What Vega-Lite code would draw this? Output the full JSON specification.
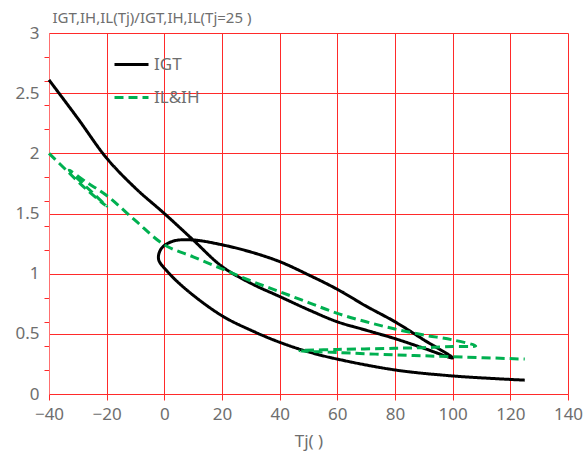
{
  "$schema": "https://vega.github.io/schema/vega-lite/v6.json",
  "width": 519,
  "height": 361,
  "autosize": "none",
  "padding": {"left": 49, "top": 33, "right": 20, "bottom": 66},
  "background": "white",
  "config": {"view": {"stroke": null}, "font": "Noto Sans"},
  "data": {"values": [
    {"s": "IGT", "o": 1, "t": -40, "r": 2.61},
    {"s": "IGT", "o": 2, "t": -30, "r": 2.29},
    {"s": "IGT", "o": 3, "t": -20, "r": 1.96},
    {"s": "IGT", "o": 4, "t": -10, "r": 1.71},
    {"s": "IGT", "o": 5, "t": 0, "r": 1.5},
    {"s": "IGT", "o": 6, "t": 10, "r": 1.28},
    {"s": "IGT", "o": 7, "t": 20, "r": 1.06},
    {"s": "IGT", "o": 8, "t": 30, "r": 0.92},
    {"s": "IGT", "o": 9, "t": 40, "r": 0.81},
    {"s": "IGT", "o": 10, "t": 50, "r": 0.7},
    {"s": "IGT", "o": 11, "t": 60, "r": 0.6},
    {"s": "IGT", "o": 12, "t": 70, "r": 0.53},
    {"s": "IGT", "o": 13, "t": 80, "r": 0.46},
    {"s": "IGT", "o": 14, "t": 90, "r": 0.38},
    {"s": "IGT", "o": 15, "t": 100, "r": 0.3},
    {"s": "IGT", "o": 16, "t": 90, "r": 0.45},
    {"s": "IGT", "o": 17, "t": 80, "r": 0.6},
    {"s": "IGT", "o": 18, "t": 70, "r": 0.73},
    {"s": "IGT", "o": 19, "t": 60, "r": 0.87},
    {"s": "IGT", "o": 20, "t": 50, "r": 0.99},
    {"s": "IGT", "o": 21, "t": 40, "r": 1.1},
    {"s": "IGT", "o": 22, "t": 30, "r": 1.18},
    {"s": "IGT", "o": 23, "t": 20, "r": 1.24},
    {"s": "IGT", "o": 24, "t": 10, "r": 1.28},
    {"s": "IGT", "o": 25, "t": 3, "r": 1.27},
    {"s": "IGT", "o": 26, "t": -1, "r": 1.21},
    {"s": "IGT", "o": 27, "t": -2, "r": 1.12},
    {"s": "IGT", "o": 28, "t": 1, "r": 1.02},
    {"s": "IGT", "o": 29, "t": 8, "r": 0.86},
    {"s": "IGT", "o": 30, "t": 20, "r": 0.65},
    {"s": "IGT", "o": 31, "t": 30, "r": 0.53},
    {"s": "IGT", "o": 32, "t": 40, "r": 0.43},
    {"s": "IGT", "o": 33, "t": 50, "r": 0.35},
    {"s": "IGT", "o": 34, "t": 60, "r": 0.29},
    {"s": "IGT", "o": 35, "t": 80, "r": 0.2},
    {"s": "IGT", "o": 36, "t": 100, "r": 0.15},
    {"s": "IGT", "o": 37, "t": 125, "r": 0.115},
    {"s": "IL&IH", "o": 1, "t": -40, "r": 2.0},
    {"s": "IL&IH", "o": 2, "t": -34, "r": 1.86},
    {"s": "IL&IH", "o": 3, "t": -27, "r": 1.7},
    {"s": "IL&IH", "o": 4, "t": -20, "r": 1.56},
    {"s": "IL&IH", "o": 5, "t": -27, "r": 1.72},
    {"s": "IL&IH", "o": 6, "t": -33, "r": 1.86},
    {"s": "IL&IH", "o": 7, "t": -27, "r": 1.76},
    {"s": "IL&IH", "o": 8, "t": -20, "r": 1.65},
    {"s": "IL&IH", "o": 9, "t": -10, "r": 1.44},
    {"s": "IL&IH", "o": 10, "t": 0, "r": 1.24},
    {"s": "IL&IH", "o": 11, "t": 10, "r": 1.14},
    {"s": "IL&IH", "o": 12, "t": 20, "r": 1.04},
    {"s": "IL&IH", "o": 13, "t": 30, "r": 0.94},
    {"s": "IL&IH", "o": 14, "t": 40, "r": 0.85},
    {"s": "IL&IH", "o": 15, "t": 50, "r": 0.76},
    {"s": "IL&IH", "o": 16, "t": 60, "r": 0.67},
    {"s": "IL&IH", "o": 17, "t": 70, "r": 0.6},
    {"s": "IL&IH", "o": 18, "t": 80, "r": 0.54},
    {"s": "IL&IH", "o": 19, "t": 90, "r": 0.49},
    {"s": "IL&IH", "o": 20, "t": 100, "r": 0.45},
    {"s": "IL&IH", "o": 21, "t": 108, "r": 0.4},
    {"s": "IL&IH", "o": 22, "t": 100, "r": 0.395},
    {"s": "IL&IH", "o": 23, "t": 90, "r": 0.385},
    {"s": "IL&IH", "o": 24, "t": 80, "r": 0.38},
    {"s": "IL&IH", "o": 25, "t": 60, "r": 0.37},
    {"s": "IL&IH", "o": 26, "t": 47, "r": 0.36},
    {"s": "IL&IH", "o": 27, "t": 60, "r": 0.345},
    {"s": "IL&IH", "o": 28, "t": 80, "r": 0.325},
    {"s": "IL&IH", "o": 29, "t": 100, "r": 0.31},
    {"s": "IL&IH", "o": 30, "t": 125, "r": 0.29}
  ]},
  "mark": {"type": "line", "interpolate": "catmull-rom", "strokeWidth": 3},
  "encoding": {
    "x": {"field": "t", "type": "quantitative",
      "scale": {"domain": [-40, 140], "nice": false, "zero": false},
      "axis": {"values": [-40, -20, 0, 20, 40, 60, 80, 100, 120, 140], "title": "Tj(  )", "format": "d",
        "labelOverlap": false, "labelBound": false, "labelFlush": false,
        "grid": true, "gridColor": "#ff2a2a", "gridWidth": 1, "domainColor": "#ff2a2a",
        "tickColor": "#ff2a2a", "tickSize": 6, "labelFontSize": 17, "labelColor": "#6e6e6e",
        "labelPadding": 6, "titleFontSize": 17, "titleColor": "#6e6e6e", "titleFontWeight": "normal",
        "titleY": 52, "titleBaseline": "alphabetic"}},
    "y": {"field": "r", "type": "quantitative",
      "scale": {"domain": [0, 3], "nice": false},
      "axis": {"values": [0, 0.2, 0.4, 0.5, 0.6, 0.8, 1, 1.2, 1.4, 1.5, 1.6, 1.8, 2, 2.2, 2.4, 2.5, 2.6, 2.8, 3],
        "labelExpr": "abs(datum.value * 2 - round(datum.value * 2)) < 0.001 ? format(datum.value, '~g') : ''",
        "labelOverlap": false, "labelFlush": false,
        "title": "IGT,IH,IL(Tj)/IGT,IH,IL(Tj=25 )",
        "titleAngle": 0, "titleAlign": "left", "titleBaseline": "middle", "titleX": 3, "titleY": -16,
        "titleFontSize": 15, "titleFontWeight": "normal", "titleColor": "#6e6e6e",
        "grid": true, "gridColor": "#ff2a2a",
        "gridOpacity": {"condition": {"test": "abs(datum.value * 2 - round(datum.value * 2)) < 0.001", "value": 1}, "value": 0},
        "ticks": true, "tickColor": "#ff2a2a", "tickWidth": 1,
        "tickOpacity": {"condition": {"test": "abs(datum.value * 2 - round(datum.value * 2)) < 0.001", "value": 0}, "value": 1},
        "tickSize": 5,
        "domainColor": "#ff7070",
        "labelFontSize": 17, "labelColor": "#6e6e6e", "labelPadding": 5}},
    "color": {"field": "s", "type": "nominal",
      "scale": {"domain": ["IGT", "IL&IH"], "range": ["#000000", "#00b050"]},
      "legend": {"orient": "none", "legendX": 64, "legendY": 13, "title": null,
        "symbolType": "stroke", "symbolSize": 1156, "symbolStrokeWidth": 3,
        "labelFontSize": 17, "labelColor": "#6e6e6e", "labelOffset": 4, "rowPadding": 6, "padding": 0}},
    "strokeDash": {"field": "s", "type": "nominal",
      "scale": {"domain": ["IGT", "IL&IH"], "range": [[1, 0], [9, 5]]}},
    "order": {"field": "o", "type": "quantitative"}
  }
}
